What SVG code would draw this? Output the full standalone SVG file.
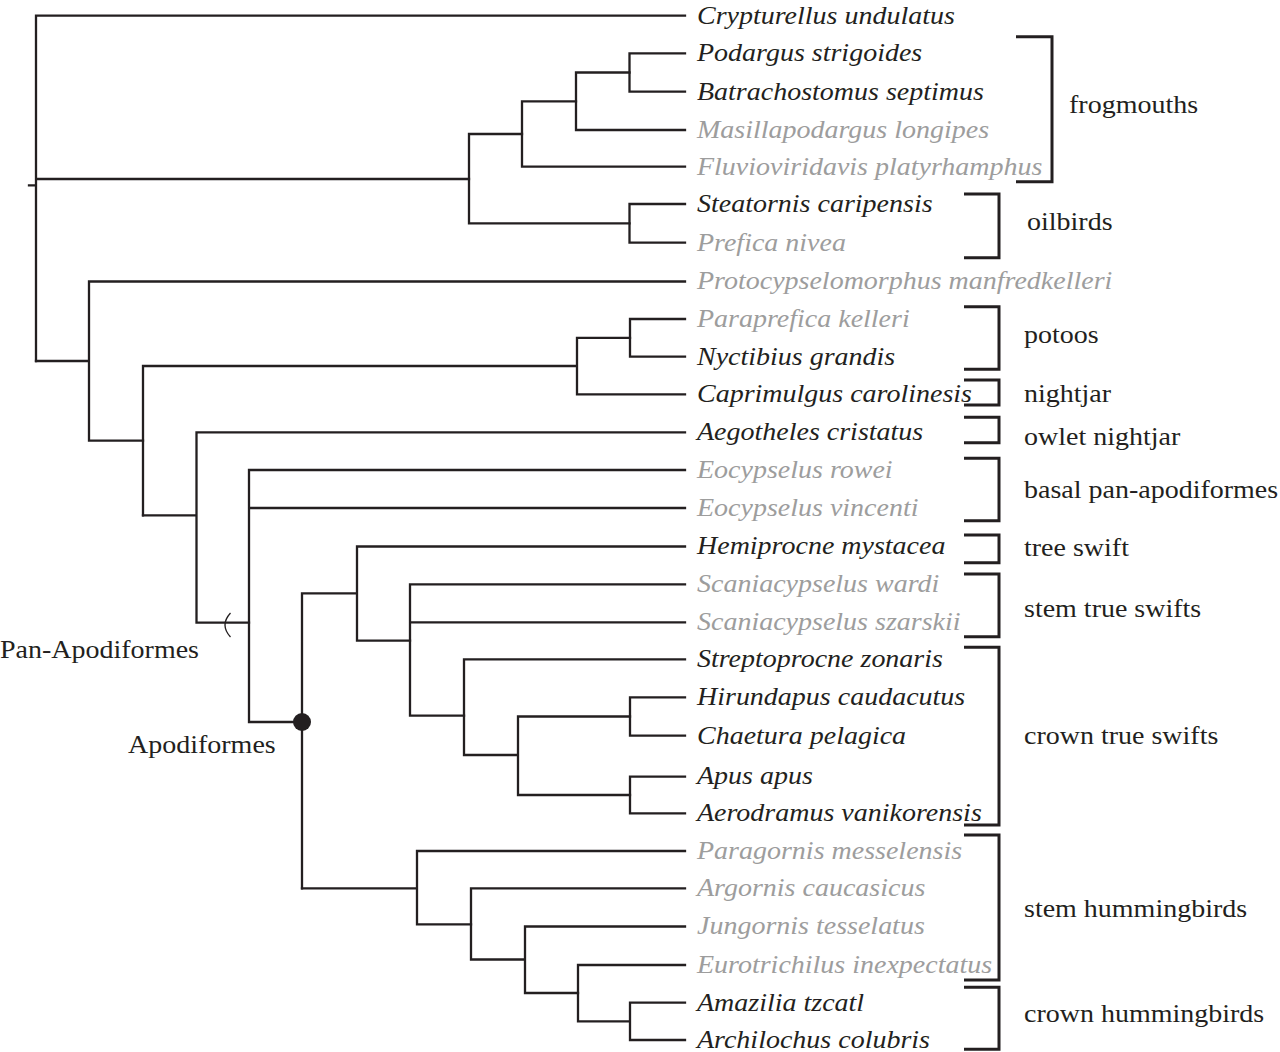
<svg xmlns="http://www.w3.org/2000/svg" width="1280" height="1052" viewBox="0 0 1280 1052">
<style>
.e{fill:none;stroke:#231f20;stroke-width:2.3;stroke-linecap:square}
.b{fill:none;stroke:#231f20;stroke-width:3;stroke-linecap:butt;stroke-linejoin:miter}
.t{font-family:"Liberation Serif","Times New Roman",serif;font-style:italic;font-size:25px;fill:#231f20}
.g{fill:#9d9d9d}
.c{font-family:"Liberation Serif","Times New Roman",serif;font-size:25px;fill:#231f20}
</style>
<rect width="1280" height="1052" fill="#fff"/>
<g id="connectors">
<path class="e" d="M36 15.7V361M29 185.3H36M36 15.7H685M36 179H469"/>
<path class="e" d="M469 134V223.4M469 134H522M469 223.4H629.5"/>
<path class="e" d="M522 101.3V166.7M522 101.3H576M522 166.7H685"/>
<path class="e" d="M576 72.5V130M576 72.5H629.5M576 130H685"/>
<path class="e" d="M629.5 53.3V91.7M629.5 53.3H685M629.5 91.7H685"/>
<path class="e" d="M629.5 204V242.7M629.5 204H685M629.5 242.7H685"/>
<path class="e" d="M36 361H89M89 281.5V440.6M89 281.5H685M89 440.6H143"/>
<path class="e" d="M143 366V515.3M143 366H577M577 337.9V394.3M577 337.9H630M577 394.3H685"/>
<path class="e" d="M630 319V356.7M630 319H685M630 356.7H685"/>
<path class="e" d="M143 515.3H196.5M196.5 432.3V622.7M196.5 432.3H685M196.5 622.7H249"/>
<path class="e" d="M249 470V722M249 470H685M249 508H685M249 722H302"/>
<path class="e" d="M302 593.3V888.3M302 593.3H357M357 546.5V640.7M357 546.5H685M357 640.7H410"/>
<path class="e" d="M410 584.3V715.7M410 584.3H685M410 622.3H685M410 715.7H464"/>
<path class="e" d="M464 659.3V755M464 659.3H685M464 755H518M518 716.5V795M518 716.5H630M518 795H630"/>
<path class="e" d="M630 697.3V735.7M630 697.3H685M630 735.7H685M630 776.7V813.3M630 776.7H685M630 813.3H685"/>
<path class="e" d="M302 888.3H417M417 851V924.3M417 851H685M417 924.3H471"/>
<path class="e" d="M471 888.3V959.5M471 888.3H685M471 959.5H525M525 926.5V993M525 926.5H685M525 993H578"/>
<path class="e" d="M578 965V1021.4M578 965H685M578 1021.4H630M630 1002.7V1040M630 1002.7H685M630 1040H685"/>
<path d="M230.5 613Q219.5 625 230.5 637" fill="none" stroke="#231f20" stroke-width="1.3"/>
<circle cx="302" cy="722" r="9" fill="#231f20"/>
</g>
<g id="node-labels">
<text class="c" transform="translate(0,658) scale(1.12,1)">Pan-Apodiformes</text>
<text class="c" transform="translate(128,753) scale(1.12,1)">Apodiformes</text>
</g>
<g id="taxa" transform="translate(697,0) scale(1.12,1)">
<g id="n1"><text class="t" y="23.7">Crypturellus undulatus</text></g>
<g id="n2"><text class="t" y="61.3">Podargus strigoides</text></g>
<g id="n3"><text class="t" y="99.7">Batrachostomus septimus</text></g>
<g id="n4"><text class="t g" y="138">Masillapodargus longipes</text></g>
<g id="n5"><text class="t g" y="174.7">Fluvioviridavis platyrhamphus</text></g>
<g id="n6"><text class="t" y="212">Steatornis caripensis</text></g>
<g id="n7"><text class="t g" y="250.7">Prefica nivea</text></g>
<g id="n8"><text class="t g" y="289.5">Protocypselomorphus manfredkelleri</text></g>
<g id="n9"><text class="t g" y="327">Paraprefica kelleri</text></g>
<g id="n10"><text class="t" y="364.7">Nyctibius grandis</text></g>
<g id="n11"><text class="t" y="402.3">Caprimulgus carolinesis</text></g>
<g id="n12"><text class="t" y="440.3">Aegotheles cristatus</text></g>
<g id="n13"><text class="t g" y="478">Eocypselus rowei</text></g>
<g id="n14"><text class="t g" y="516">Eocypselus vincenti</text></g>
<g id="n15"><text class="t" y="554.5">Hemiprocne mystacea</text></g>
<g id="n16"><text class="t g" y="592.3">Scaniacypselus wardi</text></g>
<g id="n17"><text class="t g" y="630.3">Scaniacypselus szarskii</text></g>
<g id="n18"><text class="t" y="667.3">Streptoprocne zonaris</text></g>
<g id="n19"><text class="t" y="705.3">Hirundapus caudacutus</text></g>
<g id="n20"><text class="t" y="743.7">Chaetura pelagica</text></g>
<g id="n21"><text class="t" y="784.2">Apus apus</text></g>
<g id="n22"><text class="t" y="820.8">Aerodramus vanikorensis</text></g>
<g id="n23"><text class="t g" y="859">Paragornis messelensis</text></g>
<g id="n24"><text class="t g" y="896.3">Argornis caucasicus</text></g>
<g id="n25"><text class="t g" y="934.5">Jungornis tesselatus</text></g>
<g id="n26"><text class="t g" y="973">Eurotrichilus inexpectatus</text></g>
<g id="n27"><text class="t" y="1010.7">Amazilia tzcatl</text></g>
<g id="n28"><text class="t" y="1048">Archilochus colubris</text></g>
</g>
<g id="clades">
<g id="frogmouths"><path class="b" d="M1016 36.7H1052V181.7H1016"/><text class="c" transform="translate(1069,113) scale(1.12,1)">frogmouths</text></g>
<g id="oilbirds"><path class="b" d="M964 194H999V257.7H964"/><text class="c" transform="translate(1027,230) scale(1.12,1)">oilbirds</text></g>
<g id="potoos"><path class="b" d="M964 306.7H999V369.3H964"/><text class="c" transform="translate(1024,343) scale(1.12,1)">potoos</text></g>
<g id="nightjar"><path class="b" d="M964 380H999V405H964"/><text class="c" transform="translate(1024,401.7) scale(1.12,1)">nightjar</text></g>
<g id="owlet-nightjar"><path class="b" d="M964 417.3H999V442.7H964"/><text class="c" transform="translate(1024,445) scale(1.12,1)">owlet nightjar</text></g>
<g id="basal-pan-apodiformes"><path class="b" d="M964 458.3H999V520.7H964"/><text class="c" transform="translate(1024,498.3) scale(1.12,1)">basal pan-apodiformes</text></g>
<g id="tree-swift"><path class="b" d="M964 535H999V562.7H964"/><text class="c" transform="translate(1024,556) scale(1.12,1)">tree swift</text></g>
<g id="stem-true-swifts"><path class="b" d="M964 574H999V636.7H964"/><text class="c" transform="translate(1024,616.7) scale(1.12,1)">stem true swifts</text></g>
<g id="crown-true-swifts"><path class="b" d="M964 647.3H999V825H964"/><text class="c" transform="translate(1024,744) scale(1.12,1)">crown true swifts</text></g>
<g id="stem-hummingbirds"><path class="b" d="M964 835H999V980H964"/><text class="c" transform="translate(1024,916.7) scale(1.12,1)">stem hummingbirds</text></g>
<g id="crown-hummingbirds"><path class="b" d="M964 987.3H999V1049.3H964"/><text class="c" transform="translate(1024,1021.7) scale(1.12,1)">crown hummingbirds</text></g>
</g>
</svg>
